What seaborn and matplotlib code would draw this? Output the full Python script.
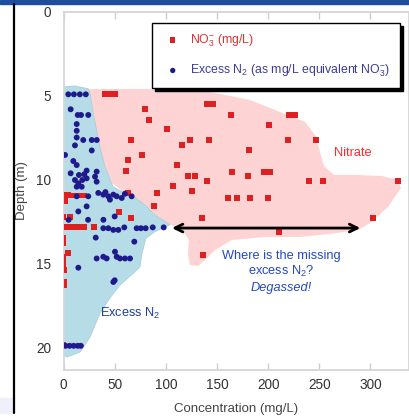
import numpy as np
import pandas as pd
import matplotlib
matplotlib.use("Agg")
import matplotlib.pyplot as plt
import seaborn as sns
from matplotlib.lines import Line2D
from matplotlib.patches import Rectangle

# ---------------- data ----------------
no3_conc = [40.6, 45.4, 50.3, 79.6, 83.5, 140, 146, 101.4, 66, 123.3, 141.9, 115.8,
            77, 63.3, 110.9, 60.8, 122, 128.5, 139.9, 107, 91.4, 125.9, 62.7, 88.7,
            54.2, 66.3, 135.3, 136.6,
            163.7, 220, 226, 200.8, 219, 246.7, 181.3, 164.3, 180.6, 196, 202, 240.2,
            254, 326.6, 161, 169.3, 182.3, 199.6, 302.8, 210.9,
            0, 4, 8, 12, 16, 20, 2,
            0, 6,
            0, 4, 8, 12, 16, 20, 30,
            0, 0, 4.5, 0, 0, 0, 1, 1, 1, 0]
no3_depth = [4.93, 4.93, 4.93, 5.82, 6.44, 5.52, 5.52, 7.01, 7.63, 7.63, 7.63, 7.97,
             8.54, 8.86, 9.16, 9.47, 9.77, 9.77, 10.1, 10.39, 10.8, 10.7, 10.8, 11.6,
             11.93, 12.3, 12.3, 14.5,
             6.16, 6.16, 6.16, 6.76, 7.65, 7.65, 8.24, 9.53, 9.77, 9.53, 9.53, 10.09,
             10.09, 10.07, 11.1, 11.1, 11.1, 11.1, 12.3, 13.1,
             10.9, 10.9, 10.95, 10.95, 10.95, 10.95, 11.3,
             12.25, 12.25,
             12.85, 12.85, 12.85, 12.85, 12.85, 12.85, 12.85,
             13.5, 13.8, 14.35, 14.6, 14.9, 15.2, 15.4, 16.1, 16.3, 19.85]

n2_conc = [4.7, 10.2, 16, 21.8, 7, 13.9, 17.1, 24.2, 12.9, 12.9, 12.9,
           19.3, 27.6, 32.5, 11.2, 27.6, 1.5, 9.6, 12.9, 22.6, 32.4,
           7, 15.1, 20.3, 11.2, 14.5, 18.4, 22.6, 30.8, 32.4, 12.9, 17.8,
           12.9, 24.2, 34, 38.9, 43.8, 48.7, 52, 56.9, 45.4, 66.6, 41, 60,
           22.6, 14.5, 5, 24, 39, 50,
           38.9, 43.8, 48.7, 53.6, 59.4, 71.5, 75.7, 80.3, 87.2, 97.9,
           31.5, 69.2, 50.3,
           32.4, 38.9, 42.2, 52, 55.2, 60.1, 65,
           14.5, 48.7, 50,
           2, 6, 10, 14, 17]
n2_depth = [4.93, 4.93, 4.93, 4.93, 5.82, 6.16, 6.16, 6.16, 6.7, 7.1, 7.5,
            7.65, 7.65, 7.65, 7.97, 8.27, 8.54, 8.9, 9.14, 9.47, 9.53,
            9.63, 9.73, 9.69, 10.03, 10.23, 10.03, 9.93, 9.83, 10.13, 10.43, 10.43,
            11.0, 11.0, 10.8, 10.9, 11.0, 10.9, 11.0, 11.1, 11.2, 11.0, 10.75, 10.85,
            11.6, 11.9, 12.4, 12.4, 12.4, 12.2,
            12.9, 12.9, 13.0, 13.0, 12.85, 12.9, 12.9, 12.9, 12.85, 12.85,
            13.46, 13.7, 14.3,
            14.7, 14.6, 14.7, 14.6, 14.7, 14.7, 14.7,
            15.25, 16.1, 16.0,
            19.9, 19.9, 19.9, 19.9, 19.9]

# hand-drawn envelope shapes (concentration, depth)
excess_zone_conc = [0, 11, 24, 26, 29.1, 35.6, 40.5, 48.4, 58, 67, 79.6, 89.4, 104,
                    89.4, 80.5, 76.7, 74.8, 67.9, 55.2, 45.4, 35.7, 25.9, 16.1, 3.4, 0]
excess_zone_depth = [4.49, 4.43, 4.6, 4.9, 6.06, 8.05, 9.24, 10.43, 10.75, 10.95, 11.52, 12.1, 12.7,
                     13.1, 13.5, 14.4, 15.19, 15.6, 16.28, 17.05, 17.95, 19.38, 20.27, 20.57, 20.45]
nitrate_zone_conc = [23.9, 84.5, 143.2, 182.3, 211.6, 236.0, 245.8, 250.7, 254.6, 264.3,
                     284.9, 311.2, 326.9, 329.8, 317.1, 299.5, 287.8, 260.4, 231.1, 196.9,
                     164.7, 148.0, 138.3, 131.4, 123.6, 121.7, 122.6, 117.8, 109.0,
                     99.2, 84.5, 65.0, 47.4, 37.6, 30.8, 25.9]
nitrate_zone_depth = [4.61, 4.61, 4.79, 5.27, 5.98, 6.58, 7.35, 8.36, 9.20, 9.73,
                      9.73, 9.79, 10.03, 10.51, 11.64, 12.59, 13.01, 13.24, 13.42, 13.42,
                      13.60, 14.20, 14.79, 15.15, 15.09, 14.49, 13.60, 13.13, 12.83,
                      12.53, 11.82, 11.04, 10.21, 8.84, 7.05, 5.27]

x_ticks = [0, 50, 100, 150, 200, 250, 300]
y_ticks = [0, 5, 10, 15, 20]

no3_df = pd.DataFrame({"conc": no3_conc, "depth": no3_depth})
n2_df = pd.DataFrame({"conc": n2_conc, "depth": n2_depth})

# ---------------- style ----------------
sns.set_theme(style="white")
plt.rcParams["font.family"] = ["Liberation Sans", "DejaVu Sans"]
plt.rcParams["mathtext.fontset"] = "custom"
plt.rcParams["mathtext.rm"] = "Liberation Sans"
plt.rcParams["mathtext.it"] = "Liberation Sans:italic"

W, H = 409, 416
fig = plt.figure(figsize=(W / 100, H / 100), dpi=100)
fig.patch.set_facecolor("white")

# slide decorations
fig.patches.append(Rectangle((0, 1 - 3.5 / H), 1, 3.5 / H, transform=fig.transFigure,
                             color="#1d4e9e", zorder=0))
fig.patches.append(Rectangle((0, 3 / H), 14.5 / W, 15 / H, transform=fig.transFigure,
                             color="#eef0fb", zorder=0))
fig.lines.append(Line2D([14.5 / W, 14.5 / W], [3 / H, 1 - 3.5 / H], transform=fig.transFigure,
                        color="black", lw=1.6))

ax = fig.add_axes([63.5 / W, 1 - 370 / H, 1 - 63.5 / W, (370 - 11.5) / H])
ax.set_facecolor("white")

ax.fill(nitrate_zone_conc, nitrate_zone_depth, color="#fdd3d3", lw=0, zorder=1)
ax.fill(excess_zone_conc, excess_zone_depth, color="#b6dde7", lw=0.6,
        edgecolor="#a9cfd9", zorder=2)

sns.scatterplot(data=no3_df, x="conc", y="depth", marker="s", s=18, color="#dd2020",
                edgecolor="none", ax=ax, zorder=3, label=r"NO$_3^{-}$ (mg/L)")
sns.scatterplot(data=n2_df, x="conc", y="depth", marker="o", s=18, color="#1e1a8c",
                edgecolor="none", ax=ax, zorder=4,
                label=r"Excess N$_2$ (as mg/L equivalent NO$_3^{-}$)")

ax.set_xlim(0, (W - 63.5) / 1.0233)
ax.set_ylim((370 - 11.5) / 16.8, 0)
ax.set_xticks(x_ticks)
ax.set_yticks(y_ticks)
ax.tick_params(axis="x", which="both", direction="in", length=5, width=1, color="#cccccc",
               top=True, bottom=True, labelsize=9.8, labelcolor="#333333", pad=6)
ax.tick_params(axis="y", length=0, labelsize=9.8, labelcolor="#333333", pad=9)
for sp in ax.spines.values():
    sp.set_color("#d6d6d6")
    sp.set_linewidth(1.3)

ax.set_xlabel("Concentration (mg/L)", fontsize=9.5, color="#444444", labelpad=8)
ax.set_ylabel("Depth (m)", fontsize=9.5, color="#444444", labelpad=6)

# annotations
ax.annotate("", xy=(106, 12.89), xytext=(290, 12.89),
            arrowprops=dict(arrowstyle="<->", lw=2, color="black", mutation_scale=14,
                            shrinkA=0, shrinkB=0), zorder=6)
ax.text(283, 8.42, "Nitrate", color="#ff2a2a", fontsize=9.2, ha="center", va="center", zorder=6)
ax.text(212.5, 14.55, "Where is the missing", color="#2448c8", fontsize=9.2, ha="center",
        va="center", zorder=6)
ax.text(212.5, 15.45, r"excess N$_2$?", color="#2448c8", fontsize=9.2, ha="center",
        va="center", zorder=6)
ax.text(212.5, 16.46, "Degassed!", color="#2448c8", fontsize=9.2, ha="center",
        va="center", style="italic", zorder=6)
ax.text(35.7, 17.95, r"Excess N$_2$", color="#1d3f9a", fontsize=9.2, ha="left",
        va="center", zorder=6)

leg = ax.legend(loc="upper left", bbox_to_anchor=(0.256, 0.968, 0.718, 0.0), mode="expand",
                borderaxespad=0.0,
                fontsize=8.8, frameon=True, fancybox=False, edgecolor="black",
                shadow={"color": "black", "alpha": 1.0}, borderpad=0.75, labelspacing=1.15,
                handletextpad=0.5, handlelength=1.9, markerscale=0.9)
leg.get_frame().set_linewidth(1.0)
leg.set_zorder(7)
for txt, c in zip(leg.get_texts(), ["#e03030", "#3b3b9b"]):
    txt.set_color(c)

fig.savefig("out.png", dpi=100)
